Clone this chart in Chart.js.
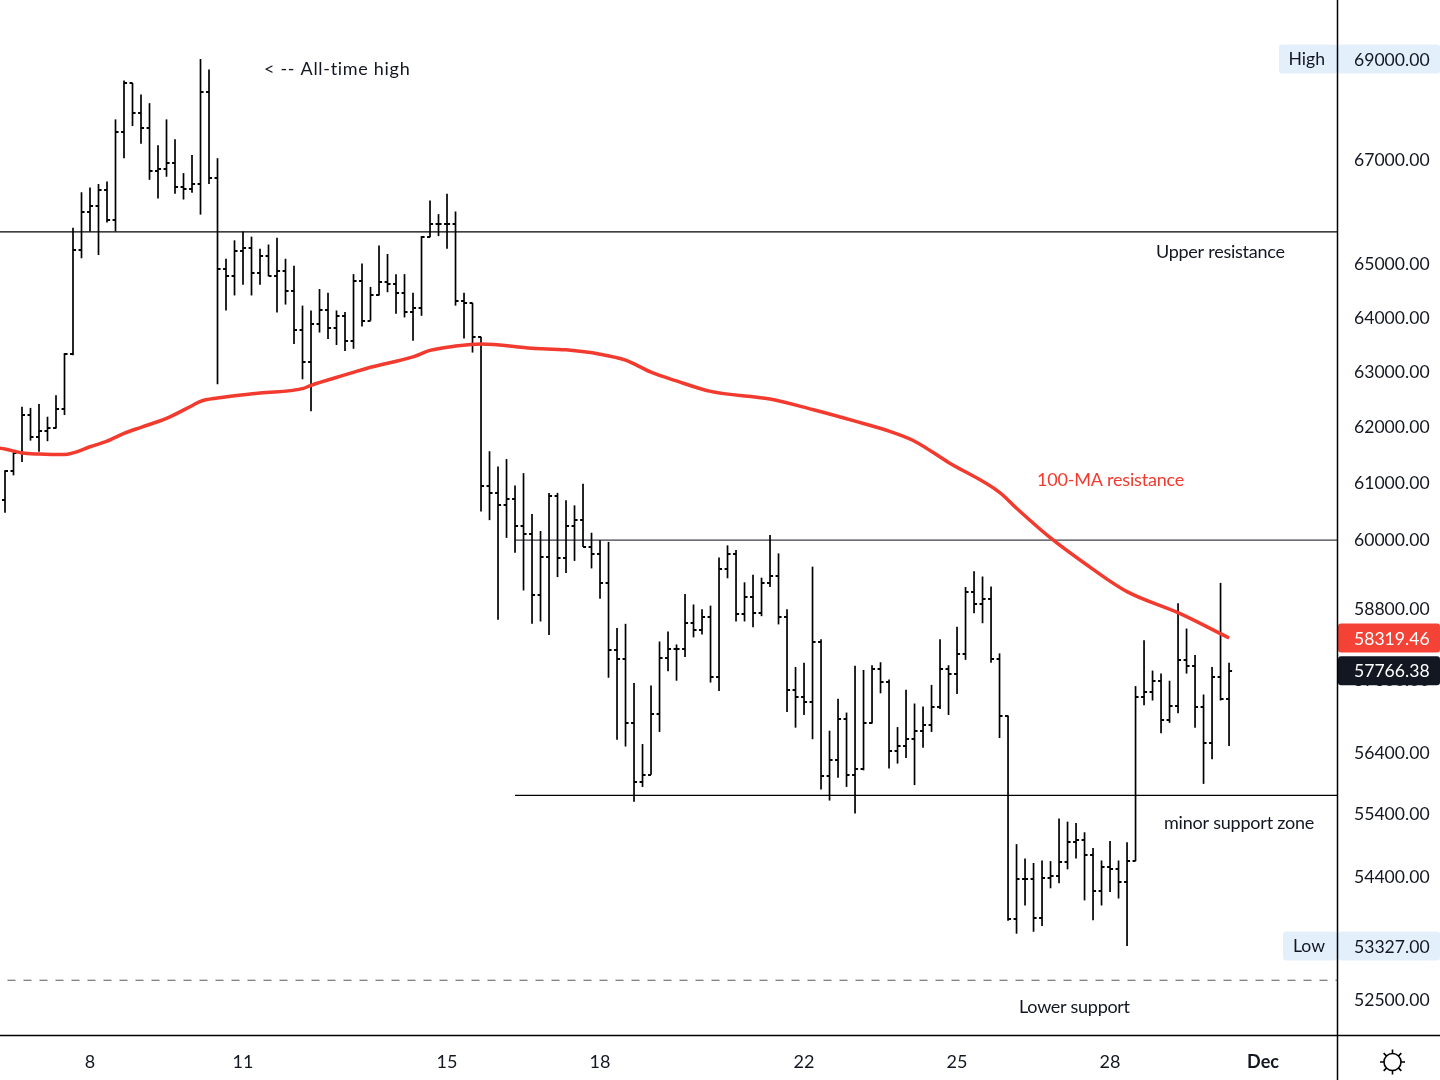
<!DOCTYPE html>
<html>
<head>
<meta charset="utf-8">
<title>BTC bars</title>
<style>
  html, body { margin: 0; padding: 0; background: #fff; }
  canvas { display: block; }
</style>
<script src="https://cdn.jsdelivr.net/npm/chart.js@4/dist/chart.umd.min.js"></script>
</head>
<body>
<canvas id="chart" width="1440" height="1080"></canvas>
<script>
const openPrices = [
  60700,61220,61540,62220,61820,61930,61990,62330,63330,65270,
  66000,66110,66420,65840,67560,68520,67920,67630,66790,66830,
  66940,66490,66450,66540,68350,66660,64920,64790,65260,65310,
  64850,65170,64790,64870,64510,63780,63180,63880,64150,63810,
  64040,63570,64700,63950,64420,64670,64640,64470,64110,64190,
  65520,65780,65780,65780,64310,64280,63640,60960,60820,60620,
  60720,60250,60100,59060,59700,60770,59690,60250,60350,59880,
  59760,59250,58120,57960,56900,55930,56050,57040,57980,58130,
  58130,58580,58460,58680,57670,59500,59760,58720,59010,58740,
  59260,59380,58670,57440,57330,57250,58250,56030,56290,56970,
  56050,56150,56900,57800,57580,56430,56520,56640,56760,56870,
  57170,57790,57710,58050,59100,58900,58980,57960,57020,53750,
  54370,54370,53770,54400,54430,54650,54960,55000,54760,54190,
  54560,54540,54330,54660,57330,57420,57590,56950,57180,57950,
  57850,57160,56570,57670,57300
];
const highPrices = [
  61230,61550,62370,62350,62420,62190,62580,63350,65700,66380,
  66470,66540,66590,67800,68570,68520,68290,68120,67290,67800,
  67410,66750,67100,69000,68790,67040,65110,65460,65630,65530,
  65300,65380,65510,65110,64980,64230,64140,64540,64470,64140,
  64110,64820,65020,64580,65360,65200,64820,64820,64470,65540,
  66220,65960,66350,66010,64470,64280,63650,61570,61300,61430,
  60960,61180,60460,60160,60830,60830,60700,60610,60990,60130,
  60000,59970,58490,58560,57560,56550,57520,58260,58430,58210,
  59070,58890,58810,58870,59700,59910,59830,59270,59400,59350,
  60090,59770,58810,57830,57900,59540,58300,56770,57300,57070,
  57850,57780,57860,57910,57620,56830,57450,57220,57170,57530,
  58300,57860,58510,59190,59460,59370,59200,58060,57020,54930,
  54700,54630,54670,54660,55340,55290,55270,55120,54870,54670,
  54980,54670,54960,57510,58280,57770,57720,57600,58910,58480,
  58030,57370,57830,59260,57900
];
const lowPrices = [
  60480,61140,61380,61760,61560,61750,61980,62220,63310,65120,
  65630,65180,65800,65630,67040,67670,67320,66620,66260,66680,
  66350,66240,66370,65950,66540,62780,64140,64420,64620,64420,
  64620,64780,64100,64250,63520,62870,62290,63730,63610,63500,
  63390,63430,63840,63950,64420,64480,64080,64010,63580,64040,
  65520,65540,65300,64230,63620,63360,60500,60350,58630,60040,
  59780,59130,58560,58600,58370,59360,59430,59640,59880,59510,
  58990,57650,56620,56510,55610,55850,56050,56750,57760,57600,
  58000,58330,58380,57570,57430,59340,58600,58600,58500,58690,
  59190,58550,57080,56820,57030,56630,55810,55630,56000,55850,
  55420,56120,56890,57390,56150,56230,56320,55880,56490,56750,
  57130,57030,57380,57950,58740,58570,57900,56650,53720,53520,
  53960,53550,53640,54230,54310,54530,54700,54040,53730,53960,
  54170,54070,53327,54660,57190,57270,56730,56900,57060,57720,
  56820,55900,56300,57270,56520
];
const closePrices = [
  61220,61540,62220,61820,61930,61990,62330,63330,65270,66000,
  66110,66420,65840,67560,68520,67920,67630,66790,66830,66940,
  66490,66450,66540,68350,66660,64920,64790,65260,65310,64850,
  65170,64790,64870,64510,63780,63180,63880,64150,63810,64040,
  63570,64700,63950,64420,64670,64640,64470,64110,64190,65520,
  65780,65780,65780,64310,64280,63640,60960,60820,60620,60720,
  60250,60100,59060,59700,60770,59690,60250,60350,59880,59760,
  59250,58120,57960,56900,55930,56050,57040,57980,58130,58130,
  58580,58460,58680,57670,59500,59760,58720,59010,58740,59260,
  59380,58670,57440,57330,57250,58250,56030,56290,56970,56050,
  56150,56900,57800,57580,56430,56520,56640,56760,56870,57170,
  57790,57710,58050,59100,58900,58980,57960,57020,53750,54370,
  54370,53770,54400,54430,54650,54960,55000,54760,54190,54560,
  54540,54330,54660,57330,57420,57590,56950,57180,57950,57850,
  57160,56570,57670,57300,57766.38
];

const maBars = [-1,0,2,4,7,8,10,12,14,16,19,22,23,25,30,35,36,40,43,48,50,53,56,62,66,70,73,76,79,83,90,95,100,104,107,111,117,119,123,127,132,138,144];
const maValues = [61630,61610,61540,61520,61510,61540,61650,61750,61890,62000,62160,62390,62470,62530,62620,62700,62760,62950,63090,63280,63400,63480,63520,63440,63410,63330,63220,63000,62840,62650,62510,62320,62110,61930,61750,61370,60840,60560,60040,59600,59110,58750,58319.46];

const axisTicks = [52500,54400,55400,56400,57600,58800,60000,61000,62000,63000,64000,65000,67000];
const dateTicks = [10,28,52,70,94,112,130,148];
const dateLabels = ['8','11','15','18','22','25','28','Dec'];

const upperResistance = 65620;
const midResistance = 60000;
const minorSupport = 55715;
const lowerSupport = 52800;

const INK = '#131722';
const BAR = '#000000';
const RED = '#f23a2e';
const FONT = 'Lato, sans-serif';
const X_MIN = -0.588, X_MAX = 156.7;
const Y_MIN = 51968, Y_MAX = 70192;

const notes = [
  { text: '< -- All-time high', bar: 30.47, price: 68800, color: INK, spacing: '0.7px' },
  { text: 'Upper resistance', bar: 135.4, price: 65230, color: INK, spacing: '-0.25px' },
  { text: '100-MA resistance', bar: 121.4, price: 61054, color: RED, spacing: '-0.2px' },
  { text: 'minor support zone', bar: 136.35, price: 55271, color: INK, spacing: '-0.22px' },
  { text: 'Lower support', bar: 119.3, price: 52390, color: INK, spacing: '-0.3px' }
];

const priceTags = [
  { side: 'High', text: '69000.00', price: 69000, bg: '#e3effb', fg: INK },
  { side: 'Low', text: '53327.00', price: 53327, bg: '#e3effb', fg: INK },
  { text: '58319.46', price: 58319.46, bg: '#f44336', fg: '#fff' },
  { text: '57766.38', price: 57766.38, bg: '#131722', fg: '#fff' }
];

function tickImage(side) {
  const c = document.createElement('canvas');
  c.width = 8;
  c.height = 2;
  const g = c.getContext('2d');
  g.fillStyle = BAR;
  g.fillRect(side === 'left' ? 1 : 4, 0, 3, 2);
  return c;
}

function hline(price, fromBar) {
  return [{ x: fromBar, y: price }, { x: X_MAX + 1, y: price }];
}

function lineSet(data, extra) {
  return Object.assign({
    type: 'line',
    data,
    borderColor: BAR,
    borderWidth: 1.3,
    pointRadius: 0,
    order: 3
  }, extra || {});
}

function noMargins(s) {
  s.paddingLeft = s.paddingRight = s.paddingTop = s.paddingBottom = 0;
}

const overlayPlugin = {
  id: 'overlay',
  afterDraw(chart) {
    const { ctx, scales } = chart;
    const x = scales.x, y = scales.y;
    ctx.save();
    ctx.textBaseline = 'middle';

    ctx.font = '18px ' + FONT;
    notes.forEach(n => {
      ctx.fillStyle = n.color;
      ctx.textAlign = 'left';
      ctx.letterSpacing = n.spacing;
      ctx.fillText(n.text, x.getPixelForValue(n.bar), y.getPixelForValue(n.price));
    });
    ctx.letterSpacing = '0px';

    ctx.font = '17.6px ' + FONT;
    priceTags.forEach(t => {
      const py = y.getPixelForValue(t.price);
      ctx.fillStyle = t.bg;
      ctx.beginPath();
      ctx.roundRect(1338, py - 14.5, 102, 29, 3);
      ctx.fill();
      ctx.fillStyle = t.fg;
      ctx.textAlign = 'left';
      ctx.fillText(t.text, 1354, py + 1);
      if (t.side) {
        const w = t.side === 'High' ? 58 : 54;
        ctx.fillStyle = t.bg;
        ctx.beginPath();
        ctx.roundRect(1337 - w, py - 14.5, w, 29, 3);
        ctx.fill();
        ctx.fillStyle = t.fg;
        ctx.textAlign = 'right';
        ctx.fillText(t.side, 1325, py);
      }
    });

    // pane separators run out to the canvas edges
    ctx.strokeStyle = BAR;
    ctx.lineWidth = 1.5;
    ctx.beginPath();
    ctx.moveTo(1337.5, 0); ctx.lineTo(1337.5, 1080);
    ctx.moveTo(0, 1035.5); ctx.lineTo(1440, 1035.5);
    ctx.stroke();

    // theme button
    const cx = 1392.5, cy = 1062;
    ctx.lineWidth = 1.6;
    ctx.beginPath();
    ctx.arc(cx, cy, 8.5, 0, Math.PI * 2);
    for (let k = 0; k < 8; k++) {
      const a = k * Math.PI / 4;
      ctx.moveTo(cx + Math.cos(a) * 9, cy + Math.sin(a) * 9);
      ctx.lineTo(cx + Math.cos(a) * 12.5, cy + Math.sin(a) * 12.5);
    }
    ctx.stroke();
    ctx.restore();
  }
};

new Chart(document.getElementById('chart'), {
  type: 'bar',
  data: {
    datasets: [
      {
        label: 'High-Low',
        data: highPrices.map((h, i) => ({ x: i, y: [lowPrices[i], h] })),
        backgroundColor: BAR,
        barThickness: 1.7,
        inflateAmount: 0,
        grouped: false,
        order: 2
      },
      lineSet(openPrices.map((v, i) => ({ x: i, y: v })), {
        label: 'Open', showLine: false, pointRadius: 4, pointStyle: tickImage('left'), order: 1
      }),
      lineSet(closePrices.map((v, i) => ({ x: i, y: v })), {
        label: 'Close', showLine: false, pointRadius: 4, pointStyle: tickImage('right'), order: 1
      }),
      lineSet(maValues.map((v, i) => ({ x: maBars[i], y: v })), {
        label: 'MA 100', borderColor: RED, borderWidth: 3.5, cubicInterpolationMode: 'monotone', order: 0
      }),
      lineSet(hline(upperResistance, X_MIN - 1), { label: 'Upper resistance' }),
      lineSet(hline(midResistance, 60), { label: 'Resistance', borderColor: '#3c3f46' }),
      lineSet(hline(minorSupport, 60), { label: 'Minor support' }),
      lineSet(hline(lowerSupport, X_MIN - 1), {
        label: 'Lower support', borderColor: '#7d8087', borderDash: [8, 8]
      })
    ]
  },
  options: {
    responsive: false,
    animation: false,
    devicePixelRatio: 1,
    layout: { padding: 0, autoPadding: false },
    plugins: { legend: { display: false }, tooltip: { enabled: false } },
    scales: {
      x: {
        type: 'linear',
        offset: false,
        min: X_MIN,
        max: X_MAX,
        grid: { display: false, offset: false },
        border: { display: false },
        afterBuildTicks: s => { s.ticks = dateTicks.map(v => ({ value: v })); },
        afterFit: s => { s.height = 45; noMargins(s); },
        ticks: {
          autoSkip: false,
          maxRotation: 0,
          padding: 8,
          color: INK,
          font: c => ({ family: FONT, size: 18, weight: c.tick && c.tick.label === 'Dec' ? '700' : '400' }),
          callback: v => dateLabels[dateTicks.indexOf(v)]
        }
      },
      y: {
        type: 'logarithmic',
        position: 'right',
        min: Y_MIN,
        max: Y_MAX,
        grid: { display: false, drawTicks: false },
        border: { display: false },
        afterBuildTicks: s => { s.ticks = axisTicks.map(v => ({ value: v })); },
        afterFit: s => { s.width = 103; noMargins(s); },
        ticks: {
          autoSkip: false,
          padding: 17,
          color: INK,
          font: { family: FONT, size: 17.6 },
          callback: v => Number(v).toFixed(2)
        }
      }
    }
  },
  plugins: [overlayPlugin]
});
</script>
</body>
</html>
